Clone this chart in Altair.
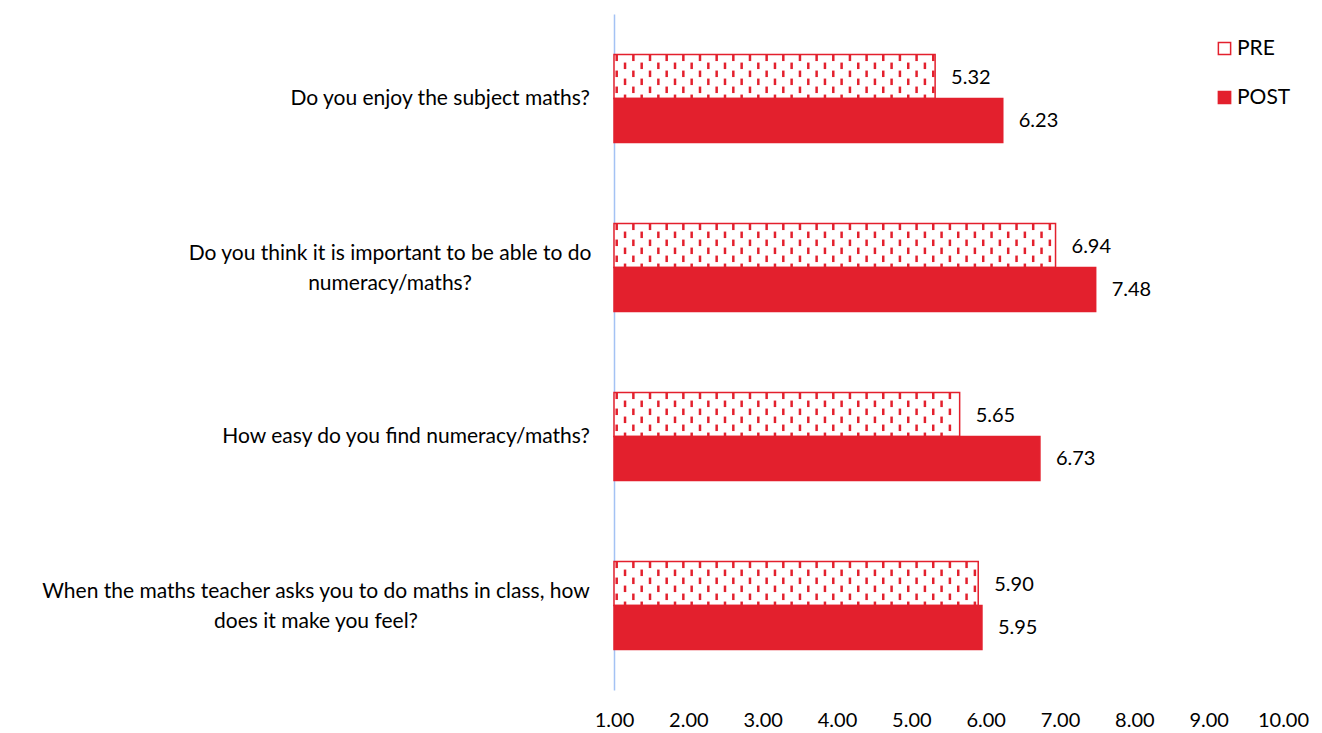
import altair as alt
import pandas as pd

# ---- data ----
questions = [
    "Do you enjoy the subject maths?",
    "Do you think it is important to be able to do\nnumeracy/maths?",
    "How easy do you find numeracy/maths?",
    "When the maths teacher asks you to do maths in class, how\ndoes it make you feel?",
]
pre = [5.32, 6.94, 5.65, 5.90]
post = [6.23, 7.48, 6.73, 5.95]
series = ["PRE", "POST"]
x_ticks = [1, 2, 3, 4, 5, 6, 7, 8, 9, 10]

RED = "#E3202D"
FONT = "Lato"
FS = 21      # category labels / legend
FSN = 20     # numbers
W, H = 669, 676
X_MIN, X_MAX = 1, 10
BAR = 0.26  # bar thickness as a fraction of a category band

px_per_x = W / (X_MAX - X_MIN)
px_per_y = H / len(questions)

bars, vals = [], []
for i, q in enumerate(questions):
    c = i + 0.5
    bars.append({"series": "PRE", "x0": X_MIN, "x1": pre[i], "y0": c - BAR, "y1": c})
    bars.append({"series": "POST", "x0": X_MIN, "x1": post[i], "y0": c, "y1": c + BAR})
    vals.append({"v": pre[i], "y": c - BAR / 2, "t": f"{pre[i]:.2f}"})
    vals.append({"v": post[i], "y": c + BAR / 2, "t": f"{post[i]:.2f}"})
bars = pd.DataFrame(bars)
vals = pd.DataFrame(vals)

# dashed pattern inside the PRE bars (derived from the PRE values)
dashes = []
col_step, first_col = 8.33, 2.7
dash_len, period, bar_px = 6.5, 16.0, BAR * px_per_y
for i, v in enumerate(pre):
    top = i + 0.5 - BAR
    end_px = (v - X_MIN) * px_per_x
    k = 0
    while first_col + k * col_step < end_px - 1.5:
        xv = X_MIN + (first_col + k * col_step) / px_per_x
        s = 0.0 if k % 2 == 0 else period / 2
        while s < bar_px:
            e = min(s + dash_len, bar_px)
            dashes.append({"x": xv, "ya": top + s / px_per_y, "yb": top + e / px_per_y})
            s += period
        k += 1
dashes = pd.DataFrame(dashes)

single = pd.DataFrame([{"q": q, "y": i + 0.5} for i, q in enumerate(questions) if "\n" not in q])
multi_cx = {1: -224, 3: -298}
multi = pd.DataFrame([{"q": q, "y": i + 0.5, "cx": multi_cx[i]} for i, q in enumerate(questions) if "\n" in q])

xs = alt.Scale(domain=[X_MIN, X_MAX], nice=False, zero=False)
ys = alt.Scale(domain=[0, len(questions)], reverse=True, nice=False, zero=False)

xaxis = alt.Axis(values=x_ticks, format=".2f", domain=False, ticks=False, grid=False,
                 labelFont=FONT, labelFontSize=FSN, labelColor="#000", labelPadding=20,
                 labelFlush=False, labelOverlap=False, title=None)
yaxis = alt.Axis(labels=False, ticks=False, grid=False, domain=True,
                 domainColor="#A4C2F4", domainWidth=1.5, title=None)

rects = alt.Chart(bars).mark_rect(stroke=RED, strokeWidth=1.5).encode(
    x=alt.X("x0:Q", scale=xs, axis=xaxis),
    x2="x1:Q",
    y=alt.Y("y0:Q", scale=ys, axis=yaxis),
    y2="y1:Q",
    fill=alt.Fill("series:N", scale=alt.Scale(domain=series, range=["#FFFFFF", RED]),
                  legend=alt.Legend(title=None, orient="none", legendX=600, legendY=24,
                                    symbolType="square", symbolSize=150,
                                    symbolStrokeColor=RED, symbolStrokeWidth=1.5,
                                    labelFont=FONT, labelFontSize=FS, labelColor="#000",
                                    rowPadding=27, labelOffset=2, padding=0)),
)

pattern = alt.Chart(dashes).mark_rule(color=RED, strokeWidth=2.5, strokeCap="butt").encode(
    x=alt.X("x:Q", scale=xs), y=alt.Y("ya:Q", scale=ys), y2="yb:Q"
)

value_text = alt.Chart(vals).mark_text(align="left", baseline="middle", dx=16, dy=1,
                                       font=FONT, fontSize=FSN, color="#000").encode(
    x=alt.X("v:Q", scale=xs), y=alt.Y("y:Q", scale=ys), text="t:N"
)

label_single = alt.Chart(single).mark_text(align="right", baseline="middle",
                                            font=FONT, fontSize=FS, color="#000").encode(
    x=alt.value(-24), y=alt.Y("y:Q", scale=ys), text="q:N"
)

label_multi = alt.Chart(multi).mark_text(align="center", baseline="middle", lineBreak="\n",
                                         lineHeight=30, dy=-14, font=FONT, fontSize=FS,
                                         color="#000").encode(
    x=alt.X("cx:Q", scale=None), y=alt.Y("y:Q", scale=ys), text="q:N"
)

chart = alt.layer(rects, pattern, value_text, label_single, label_multi).properties(
    width=W, height=H,
    autosize=alt.AutoSizeParams(type="none"),
    padding={"left": 614, "top": 14, "right": 39, "bottom": 43},
    background="white",
).configure_view(stroke=None)

chart.save("out.html", embed_options={"renderer": "svg", "actions": False})
